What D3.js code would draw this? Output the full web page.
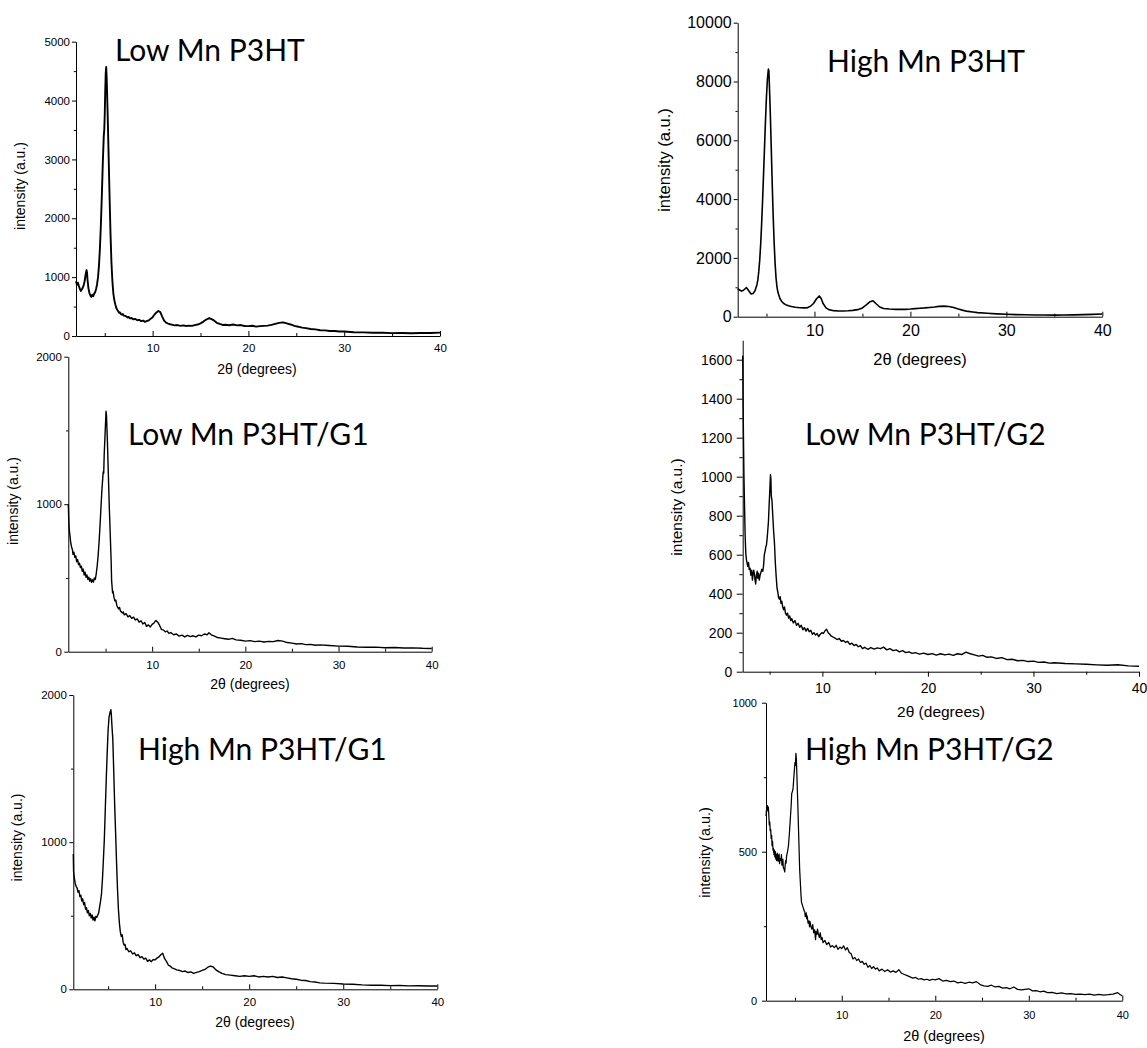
<!DOCTYPE html>
<html>
<head>
<meta charset="utf-8">
<script src="https://cdn.jsdelivr.net/npm/d3@7"></script>
<style>
  body { margin: 0; background: #fff; }
  svg { display: block; }
  .tick text { font-family: "Liberation Sans", Arial, sans-serif; fill: #000; }
  .axis path, .axis line { stroke: #000; stroke-width: 1; }
</style>
</head>
<body>
<script>
// ---- XRD patterns: [2θ (degrees), intensity (a.u.)] ----
const lowMnP3HT = [
  [2.0,930],[2.1,870],[2.2,905],[2.3,850],[2.4,800],[2.5,765],[2.6,790],[2.7,820],[2.8,860],[2.9,930],
  [3.0,1040],[3.1,1120],[3.15,1080],[3.2,960],[3.3,810],[3.4,730],[3.5,690],[3.6,665],[3.7,700],[3.8,675],
  [3.9,720],[4.0,745],[4.1,800],[4.2,880],[4.3,1000],[4.4,1200],[4.5,1500],[4.6,1900],[4.7,2400],[4.8,2950],
  [4.9,3400],[4.95,3500],[5.0,3750],[5.05,4150],[5.1,4450],[5.15,4570],[5.2,4400],[5.3,3800],[5.4,3100],[5.5,2400],
  [5.6,1750],[5.7,1250],[5.8,930],[5.9,720],[6.0,610],[6.1,540],[6.2,480],[6.3,445],[6.4,420],[6.5,395],
  [6.6,400],[6.7,370],[6.8,360],[6.9,372],[7.0,345],[7.2,338],[7.4,315],[7.5,325],[7.6,300],[7.8,305],
  [8.0,282],[8.2,290],[8.4,268],[8.6,275],[8.8,252],[9.0,262],[9.2,240],[9.4,255],[9.6,265],[9.8,295],
  [10.0,320],[10.2,365],[10.4,400],[10.6,425],[10.8,405],[11.0,330],[11.2,262],[11.4,228],[11.6,212],[11.8,200],
  [12.0,192],[12.3,180],[12.6,186],[12.9,172],[13.2,180],[13.5,170],[13.8,176],[14.1,172],[14.4,185],[14.7,195],
  [15.0,215],[15.3,245],[15.6,280],[15.9,302],[16.1,292],[16.4,265],[16.7,225],[17.0,205],[17.3,188],[17.6,192],
  [18.0,182],[18.4,195],[18.8,180],[19.2,186],[19.6,170],[20.0,168],[20.4,175],[20.8,160],[21.2,168],[21.6,172],
  [22.0,176],[22.4,188],[22.8,205],[23.2,222],[23.6,232],[24.0,214],[24.4,196],[24.8,172],[25.2,158],[25.6,142],
  [26.0,133],[26.5,118],[27.0,112],[27.5,98],[28.0,96],[28.5,86],[29.0,84],[29.5,76],[30.0,76],[31,64],
  [32,62],[33,54],[34,55],[35,49],[36,50],[37,47],[38,52],[39,50],[40,58]
];

const highMnP3HT = [
  [2.0,950],[2.2,910],[2.4,870],[2.6,900],[2.8,960],[2.9,990],[3.0,950],[3.2,860],[3.4,770],[3.6,790],
  [3.8,880],[4.0,1080],[4.1,1250],[4.2,1550],[4.3,1950],[4.4,2500],[4.5,3200],[4.6,4000],[4.7,4900],[4.8,5800],
  [4.9,6700],[5.0,7500],[5.1,8100],[5.2,8420],[5.25,8350],[5.3,7900],[5.4,6900],[5.5,5700],[5.6,4500],[5.7,3400],
  [5.8,2500],[5.9,1800],[6.0,1300],[6.1,1000],[6.2,820],[6.4,620],[6.6,510],[6.8,450],[7.0,410],[7.3,370],
  [7.6,345],[8.0,320],[8.5,305],[9.0,300],[9.3,310],[9.6,360],[9.9,450],[10.2,600],[10.5,705],[10.7,620],
  [10.9,450],[11.2,300],[11.5,240],[12.0,205],[12.5,195],[13.0,195],[13.5,200],[14.0,215],[14.5,240],[15.0,300],
  [15.4,400],[15.8,510],[16.1,540],[16.4,450],[16.8,330],[17.2,280],[17.8,260],[18.5,250],[19.0,255],[19.5,250],
  [20.0,260],[20.5,275],[21.0,290],[21.5,300],[22.0,315],[22.5,330],[23.0,350],[23.5,360],[24.0,345],[24.5,310],
  [25.0,260],[25.5,215],[26.0,180],[26.5,160],[27.0,140],[28.0,115],[29.0,95],[30.0,82],[31,70],[32,65],
  [33,60],[34,58],[35,55],[36,60],[37,62],[38,70],[39,80],[40,90]
];

const lowMnP3HTG1 = [
  [1.0,1000],[1.05,900],[1.1,830],[1.17,790],[1.25,745],[1.35,710],[1.45,690],[1.5,660],[1.6,675],[1.7,640],
  [1.8,650],[1.9,610],[2.0,625],[2.1,590],[2.2,600],[2.3,570],[2.4,580],[2.5,545],[2.6,560],[2.7,520],
  [2.8,540],[2.9,505],[3.0,520],[3.1,490],[3.2,505],[3.3,478],[3.4,495],[3.5,470],[3.6,488],[3.7,472],
  [3.8,500],[3.9,490],[4.0,530],[4.1,580],[4.2,650],[4.3,740],[4.4,850],[4.5,970],[4.6,1090],[4.7,1180],
  [4.75,1220],[4.8,1210],[4.85,1330],[4.95,1480],[5.05,1630],[5.1,1600],[5.2,1420],[5.3,1200],[5.4,980],[5.5,800],
  [5.6,610],[5.65,480],[5.7,440],[5.75,400],[5.8,410],[5.9,370],[6.0,345],[6.1,350],[6.2,315],[6.3,300],
  [6.4,290],[6.5,300],[6.6,275],[6.7,270],[6.8,262],[6.9,270],[7.0,250],[7.2,258],[7.4,236],[7.6,245],
  [7.8,226],[8.0,234],[8.2,215],[8.4,222],[8.6,200],[8.8,210],[9.0,188],[9.2,198],[9.4,172],[9.6,182],
  [9.8,168],[10.0,185],[10.2,195],[10.4,212],[10.6,200],[10.8,178],[11.0,150],[11.2,148],[11.4,135],[11.6,140],
  [11.8,124],[12.0,130],[12.3,115],[12.6,120],[12.9,106],[13.2,112],[13.5,100],[13.8,110],[14.1,102],[14.4,108],
  [14.7,100],[15.0,112],[15.3,108],[15.6,120],[15.9,115],[16.1,128],[16.4,112],[16.7,105],[17.0,96],[17.4,92],
  [17.8,88],[18.2,84],[18.6,90],[19.0,80],[19.5,78],[20.0,72],[20.5,75],[21.0,68],[21.5,72],[22.0,66],
  [22.5,70],[23.0,68],[23.5,76],[24.0,72],[24.5,62],[25.0,58],[25.5,52],[26.0,55],[26.5,48],[27.0,50],
  [27.5,44],[28.0,46],[29.0,42],[30.0,38],[31,37],[32,32],[33,30],[34,31],[35,27],[36,28],
  [37,25],[38,26],[39,23],[40,22]
];

const lowMnP3HTG2 = [
  [2.45,1620],[2.48,1400],[2.52,1210],[2.57,1000],[2.62,860],[2.68,700],[2.74,610],[2.8,575],[2.87,555],[2.93,540],
  [3.0,560],[3.07,525],[3.15,530],[3.22,495],[3.3,520],[3.37,470],[3.45,510],[3.5,520],[3.56,500],[3.62,470],
  [3.68,450],[3.75,495],[3.82,515],[3.88,480],[3.95,505],[4.02,470],[4.1,495],[4.18,510],[4.26,525],[4.35,515],
  [4.42,540],[4.5,600],[4.58,620],[4.64,640],[4.7,650],[4.76,680],[4.82,720],[4.89,770],[4.95,850],[5.02,930],
  [5.08,1010],[5.12,990],[5.16,900],[5.22,880],[5.3,800],[5.38,720],[5.46,660],[5.54,560],[5.62,490],[5.7,430],
  [5.77,410],[5.85,380],[5.93,372],[6.0,385],[6.08,350],[6.15,362],[6.25,330],[6.33,318],[6.41,332],[6.5,300],
  [6.6,290],[6.7,300],[6.8,275],[6.9,286],[7.0,262],[7.1,272],[7.25,250],[7.4,262],[7.55,238],[7.7,248],
  [7.85,228],[8.0,238],[8.15,215],[8.3,226],[8.45,208],[8.6,222],[8.75,205],[8.9,212],[9.05,192],[9.2,200],
  [9.35,188],[9.5,196],[9.65,180],[9.8,192],[9.95,200],[10.1,196],[10.25,210],[10.4,218],[10.55,200],[10.7,192],
  [10.85,182],[11.0,178],[11.2,172],[11.4,165],[11.6,170],[11.8,156],[12.0,160],[12.2,150],[12.4,156],[12.6,140],
  [12.8,146],[13.0,134],[13.2,140],[13.4,128],[13.6,134],[13.8,118],[14.0,125],[14.3,115],[14.6,124],[14.9,116],
  [15.2,122],[15.5,118],[15.8,126],[16.1,112],[16.4,118],[16.7,108],[17.0,112],[17.3,102],[17.6,108],[17.9,98],
  [18.2,102],[18.5,94],[18.8,98],[19.2,90],[19.6,95],[20.0,88],[20.4,93],[20.8,85],[21.2,92],[21.6,86],
  [22.0,90],[22.4,84],[22.8,92],[23.2,88],[23.6,100],[24.0,92],[24.4,86],[24.8,80],[25.2,84],[25.6,74],
  [26.0,76],[26.5,68],[27.0,72],[27.5,62],[28.0,64],[28.5,56],[29.0,58],[29.5,52],[30.0,54],[30.5,48],
  [31,50],[31.5,44],[32,46],[33,42],[34,40],[35,38],[36,35],[37,33],[38,36],[39,30],[40,28]
];

const highMnP3HTG1 = [
  [1.3,920],[1.33,800],[1.4,760],[1.5,720],[1.6,700],[1.7,690],[1.8,660],[1.9,670],[2.0,630],[2.1,640],
  [2.2,600],[2.3,615],[2.4,575],[2.5,590],[2.6,545],[2.7,555],[2.8,520],[2.9,535],[3.0,500],[3.1,515],
  [3.2,485],[3.3,505],[3.4,470],[3.5,490],[3.6,465],[3.7,495],[3.8,490],[3.9,505],[4.0,520],[4.1,560],
  [4.2,600],[4.3,650],[4.4,750],[4.5,880],[4.6,1020],[4.7,1220],[4.8,1420],[4.9,1600],[5.0,1760],[5.1,1850],
  [5.2,1880],[5.3,1900],[5.35,1860],[5.4,1800],[5.5,1700],[5.6,1480],[5.7,1250],[5.8,1060],[5.9,860],[6.0,680],
  [6.1,540],[6.2,450],[6.3,390],[6.4,360],[6.5,370],[6.6,320],[6.7,300],[6.8,305],[6.9,270],[7.0,278],
  [7.2,255],[7.4,262],[7.6,240],[7.8,248],[8.0,228],[8.2,236],[8.4,215],[8.6,222],[8.8,205],[9.0,212],
  [9.2,190],[9.4,200],[9.6,188],[9.8,202],[10.0,200],[10.2,212],[10.4,220],[10.6,235],[10.8,245],[11.0,210],
  [11.2,190],[11.4,165],[11.6,158],[11.8,145],[12.0,140],[12.3,132],[12.6,128],[12.9,120],[13.2,124],[13.5,114],
  [13.8,118],[14.1,108],[14.4,115],[14.7,120],[15.0,128],[15.3,135],[15.6,150],[15.9,158],[16.2,150],[16.5,130],
  [16.8,118],[17.1,108],[17.5,100],[18.0,96],[18.5,92],[19.0,88],[19.5,92],[20.0,88],[20.5,92],[21.0,84],
  [21.5,88],[22.0,84],[22.5,88],[23.0,80],[23.5,84],[24.0,78],[24.5,72],[25.0,68],[25.5,62],[26.0,60],
  [26.5,52],[27.0,50],[27.5,44],[28.0,42],[29.0,40],[30.0,36],[31,34],[32,30],[33,28],[34,28],
  [35,25],[36,26],[37,23],[38,24],[39,22],[40,22]
];

const highMnP3HTG2 = [
  [1.9,620],[1.95,640],[2.0,635],[2.05,655],[2.1,640],[2.15,650],[2.2,625],[2.25,590],[2.3,600],[2.35,570],
  [2.4,575],[2.45,545],[2.5,555],[2.55,520],[2.6,535],[2.65,505],[2.7,510],[2.75,490],[2.8,505],[2.85,482],
  [2.9,500],[2.95,475],[3.0,490],[3.05,470],[3.1,495],[3.15,488],[3.2,468],[3.3,492],[3.35,460],[3.4,478],
  [3.5,470],[3.55,490],[3.6,455],[3.7,475],[3.75,448],[3.85,440],[3.9,432],[3.95,455],[4.0,470],[4.05,462],
  [4.1,485],[4.2,500],[4.3,520],[4.4,560],[4.5,610],[4.6,660],[4.65,695],[4.7,700],[4.75,705],[4.8,715],
  [4.9,760],[5.0,800],[5.05,790],[5.1,830],[5.15,810],[5.2,760],[5.3,660],[5.4,550],[5.5,440],[5.6,380],
  [5.65,350],[5.7,330],[5.8,320],[5.9,310],[6.0,300],[6.05,298],[6.1,282],[6.2,295],[6.25,275],[6.3,285],
  [6.4,260],[6.5,268],[6.55,248],[6.6,265],[6.7,250],[6.8,240],[6.9,255],[7.0,228],[7.1,238],[7.2,205],
  [7.25,232],[7.35,222],[7.4,240],[7.5,225],[7.6,212],[7.7,228],[7.8,205],[7.9,212],[8.0,195],[8.2,202],
  [8.4,188],[8.6,196],[8.8,180],[9.0,185],[9.2,178],[9.4,186],[9.6,172],[9.8,180],[10.0,175],[10.2,184],
  [10.4,170],[10.6,178],[10.8,162],[11.0,158],[11.2,140],[11.4,145],[11.6,135],[11.8,140],[12.0,128],[12.2,132],
  [12.4,122],[12.6,126],[12.8,112],[13.0,118],[13.2,108],[13.4,114],[13.6,106],[13.8,110],[14.0,100],[14.3,106],
  [14.6,98],[14.9,104],[15.2,96],[15.5,100],[15.8,95],[16.1,104],[16.4,92],[16.7,88],[17.0,84],[17.3,80],
  [17.6,76],[17.9,78],[18.2,72],[18.5,74],[18.8,70],[19.1,72],[19.4,68],[19.7,72],[20.0,70],[20.4,74],
  [20.8,66],[21.2,68],[21.6,64],[22.0,66],[22.4,60],[22.8,62],[23.2,58],[23.6,62],[24.0,60],[24.4,64],
  [24.8,54],[25.2,50],[25.6,48],[26.0,52],[26.4,46],[26.8,48],[27.2,42],[27.6,44],[28.0,40],[28.4,46],
  [28.8,38],[29.2,36],[29.6,38],[30.0,40],[30.4,33],[30.8,34],[31.2,30],[31.6,32],[32,27],[32.5,28],
  [33,24],[33.5,26],[34,23],[34.5,24],[35,21],[35.5,22],[36,20],[36.5,22],[37,19],[37.5,21],
  [38,19],[38.5,20],[39,22],[39.5,27],[39.8,20],[40,16]
];

// ---- tick values ----
const angleTicks = [10, 20, 30, 40];
const angleMinorTicks = [5, 15, 25, 35];
const ticks5000 = [0, 1000, 2000, 3000, 4000, 5000];
const minor5000 = [500, 1500, 2500, 3500, 4500];
const ticks10000 = [0, 2000, 4000, 6000, 8000, 10000];
const minor10000 = [1000, 3000, 5000, 7000, 9000];
const ticks2000 = [0, 1000, 2000];
const minor2000 = [500, 1500];
const ticks1700 = [0, 200, 400, 600, 800, 1000, 1200, 1400, 1600];
const minor1700 = [100, 300, 500, 700, 900, 1100, 1300, 1500];
const ticks1000 = [0, 500, 1000];
const minor1000 = [250, 750];

const titles = ["Low Mn P3HT", "High Mn P3HT", "Low Mn P3HT/G1", "Low Mn P3HT/G2", "High Mn P3HT/G1", "High Mn P3HT/G2"];
const xAxisTitle = "2\u03B8 (degrees)";
const yAxisTitle = "intensity (a.u.)";

// ---- panel layout ----
const panels = [
  { data: lowMnP3HT, title: titles[0], xDomain: [2, 40], yDomain: [0, 5000], yTicks: ticks5000, yMinor: minor5000,
    box: { l: 76, r: 440, t: 41.7, b: 336 }, tickFont: 11.5, labelFont: 14, xTickIn: true, xPad: 8, yPad: 2, yTick: 4,
    xLab: [257, 374], yLab: [24.5, 186], titlePos: [115, 61], lw: 1.9 },
  { data: highMnP3HT, title: titles[1], xDomain: [2, 40], yDomain: [0, 10000], yTicks: ticks10000, yMinor: minor10000,
    box: { l: 737.7, r: 1102.3, t: 22.7, b: 316.7 }, tickFont: 16, labelFont: 16.5, xTickIn: true, xPad: 7.5, yPad: 2, yTick: 4,
    xLab: [920, 365], yLab: [670, 160], titlePos: [827, 72], lw: 1.6 },
  { data: lowMnP3HTG1, title: titles[2], xDomain: [1, 40], yDomain: [0, 2000], yTicks: ticks2000, yMinor: minor2000,
    box: { l: 68.3, r: 431.7, t: 356.7, b: 651.7 }, tickFont: 11.5, labelFont: 14, xTickIn: true, xPad: 9, yPad: 2.5, yTick: 4,
    xLab: [250, 689], yLab: [18, 501], titlePos: [128, 445], lw: 1.4 },
  { data: lowMnP3HTG2, title: titles[3], xDomain: [2.45, 40], yDomain: [0, 1700], yTicks: ticks1700, yMinor: minor1700,
    box: { l: 742.7, r: 1139, t: 340.2, b: 671.7 }, tickFont: 14, labelFont: 15.5, xTickIn: false, xPad: 6, yPad: 4.5, yTick: 6,
    xLab: [941, 717], yLab: [681.5, 507], titlePos: [805, 445], lw: 1.4 },
  { data: highMnP3HTG1, title: titles[4], xDomain: [1.3, 40], yDomain: [0, 2000], yTicks: ticks2000, yMinor: minor2000,
    box: { l: 73.3, r: 437.3, t: 695, b: 989.3 }, tickFont: 11.5, labelFont: 14, xTickIn: true, xPad: 8.3, yPad: 2.5, yTick: 4,
    xLab: [255, 1027], yLab: [22, 837.5], titlePos: [138, 760], lw: 1.4 },
  { data: highMnP3HTG2, title: titles[5], xDomain: [1.9, 40], yDomain: [0, 1000], yTicks: ticks1000, yMinor: minor1000,
    box: { l: 766, r: 1122.3, t: 702.7, b: 1000.7 }, tickFont: 11, labelFont: 14.4, xTickIn: true, xPad: 10.3, yPad: 5, yTick: 4,
    xLab: [944, 1041], yLab: [710, 852.5], titlePos: [805, 760], lw: 1.25 }
];

const svg = d3.select("body").append("svg")
  .attr("width", 1147).attr("height", 1048)
  .style("background", "#fff");

panels.forEach(p => {
  const x = d3.scaleLinear().domain(p.xDomain).range([p.box.l, p.box.r]);
  const y = d3.scaleLinear().domain(p.yDomain).range([p.box.b, p.box.t]);
  const g = svg.append("g");
  const fmt = d3.format("d");

  // minor ticks first, so the main axis line sits on top
  g.append("g").attr("class", "axis").attr("transform", `translate(0,${p.box.b})`)
    .call(d3.axisBottom(x).tickValues(angleMinorTicks.filter(v => v >= p.xDomain[0]))
      .tickFormat("").tickSizeInner(p.xTickIn ? -3 : 3).tickSizeOuter(0))
    .call(a => a.select(".domain").remove());
  g.append("g").attr("class", "axis").attr("transform", `translate(${p.box.l},0)`)
    .call(d3.axisLeft(y).tickValues(p.yMinor).tickFormat("").tickSizeInner(p.yTick * 0.55).tickSizeOuter(0))
    .call(a => a.select(".domain").remove());

  const xAxis = g.append("g").attr("class", "axis").attr("transform", `translate(0,${p.box.b})`)
    .call(d3.axisBottom(x).tickValues(angleTicks).tickFormat(fmt)
      .tickSizeInner(p.xTickIn ? -5 : 5).tickSizeOuter(0).tickPadding(p.xPad));
  xAxis.selectAll("text").style("font-size", p.tickFont + "px");

  const yAxis = g.append("g").attr("class", "axis").attr("transform", `translate(${p.box.l},0)`)
    .call(d3.axisLeft(y).tickValues(p.yTicks).tickFormat(fmt)
      .tickSizeInner(p.yTick).tickSizeOuter(0).tickPadding(p.yPad));
  yAxis.selectAll("text").style("font-size", p.tickFont + "px");

  // diffraction trace
  const line = d3.line().x(d => x(d[0])).y(d => y(d[1]));
  g.append("path").datum(p.data)
    .attr("d", line)
    .attr("fill", "none")
    .attr("stroke", "#000")
    .attr("stroke-width", p.lw)
    .attr("stroke-linejoin", "round");

  // axis titles
  g.append("text")
    .attr("x", p.xLab[0]).attr("y", p.xLab[1])
    .attr("text-anchor", "middle")
    .style("font-family", '"Liberation Sans", Arial, sans-serif')
    .style("font-size", p.labelFont + "px")
    .text(xAxisTitle);
  g.append("text")
    .attr("transform", `translate(${p.yLab[0]},${p.yLab[1]}) rotate(-90)`)
    .attr("text-anchor", "middle")
    .style("font-family", '"Liberation Sans", Arial, sans-serif')
    .style("font-size", p.labelFont + "px")
    .text(yAxisTitle);

  // sample name
  g.append("text")
    .attr("x", p.titlePos[0]).attr("y", p.titlePos[1])
    .style("font-family", "Lato, 'Open Sans', sans-serif")
    .style("font-size", "30px")
    .text(p.title);
});
</script>
</body>
</html>
